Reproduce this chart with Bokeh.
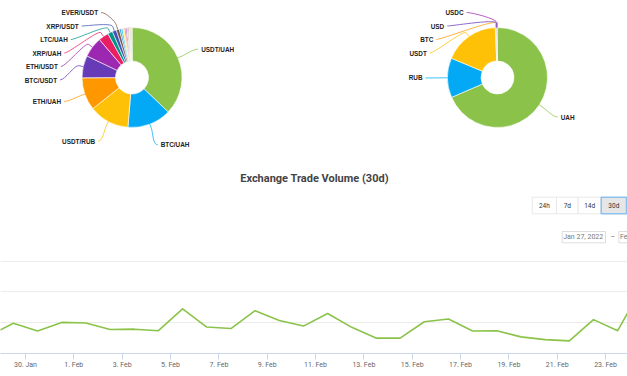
import math
from datetime import datetime, timedelta
import numpy as np
from bokeh.plotting import figure
from bokeh.layouts import column
from bokeh.models import Range1d, FixedTicker, SingleIntervalTicker
from bokeh.embed import file_html
from bokeh.resources import INLINE
from bokeh.core.properties import value

# ---------------- data ----------------
pair_names = ["USDT/UAH", "BTC/UAH", "USDT/RUB", "ETH/UAH", "BTC/USDT", "ETH/USDT",
              "XRP/UAH", "LTC/UAH", "XRP/USDT", "EVER/USDT",
              "", "", "", "", "", "", "", "", "", "", "", ""]
pair_share = [37.1, 14.2, 13.0, 10.6, 7.2, 6.6, 3.3, 1.6, 1.3, 1.0,
              0.6, 0.5, 0.5, 0.45, 0.4, 0.35, 0.3, 0.3, 0.25, 0.2, 0.15, 0.1]
pair_colors = ["#8bc34a", "#03a9f4", "#ffc107", "#ff9800", "#673ab7", "#9c27b0",
               "#e91e63", "#009688", "#3f51b5", "#795548",
               "#2196f3", "#00bcd4", "#ffeb3b", "#ff5722", "#9c27b0", "#9e9e9e",
               "#795548", "#cddc39", "#4caf50", "#f44336", "#607d8b", "#8d6e63"]

currency_names = ["UAH", "RUB", "USDT", "BTC", "USD", "USDC"]
currency_share = [68.5, 12.8, 18.0, 0.3, 0.2, 0.2]
currency_colors = ["#8bc34a", "#03a9f4", "#ffc107", "#ff9800", "#673ab7", "#9c27b0"]

volume_dates = ["2022-01-28", "2022-01-29", "2022-01-30", "2022-01-31", "2022-02-01",
                "2022-02-02", "2022-02-03", "2022-02-04", "2022-02-05", "2022-02-06",
                "2022-02-07", "2022-02-08", "2022-02-09", "2022-02-10", "2022-02-11",
                "2022-02-12", "2022-02-13", "2022-02-14", "2022-02-15", "2022-02-16",
                "2022-02-17", "2022-02-18", "2022-02-19", "2022-02-20", "2022-02-21",
                "2022-02-22", "2022-02-23", "2022-02-24"]
volume_values = [5.8, 9.8, 7.3, 10.1, 9.9, 7.8, 7.9, 7.4, 14.5, 8.6,
                 8.1, 13.9, 10.7, 8.9, 13.0, 8.5, 5.0, 5.0, 10.3, 11.2,
                 7.3, 7.4, 5.4, 4.5, 4.1, 11.0, 7.4, 21.4]

range_buttons = ["24h", "7d", "14d", "30d"]
selected_button = "30d"
date_from = "Jan 27, 2022"
date_to = "Feb 26, 2022"
title_text = "Exchange Trade Volume (30d)"

# ---------------- layout ----------------
W = 627
H_TOP = 250
H_BOT = 126


def Y(y):
    return H_TOP - y


top = figure(width=W, height=H_TOP, x_range=Range1d(0, W), y_range=Range1d(0, H_TOP),
             x_axis_location=None, y_axis_location=None, toolbar_location=None,
             output_backend="svg", min_border=0)
top.grid.visible = False
top.outline_line_color = None
top.background_fill_color = "white"


def draw_pie(p, names, vals, colors, cx, cy, r_out, r_in, dist=22.0, gap=13.5, top_y=12.0):
    vals = np.asarray(vals, dtype=float)
    cum = np.concatenate([[0.0], np.cumsum(vals)]) / vals.sum() * 2 * math.pi
    s_cw, e_cw = cum[:-1], cum[1:]
    p.annular_wedge(x=cx, y=Y(cy), inner_radius=r_in, outer_radius=r_out,
                    inner_radius_units="screen", outer_radius_units="screen",
                    start_angle=list(math.pi / 2 - e_cw), end_angle=list(math.pi / 2 - s_cw),
                    fill_color=colors, line_color="white", line_width=0.6)
    mid = (s_cw + e_cw) / 2
    R = r_out + dist
    labels = []
    for i, n in enumerate(names):
        if not n:
            continue
        side = 1 if mid[i] < math.pi else -1
        labels.append(dict(i=i, name=n, side=side, ny=cy - R * math.cos(mid[i])))
    for side in (1, -1):
        grp = sorted([l for l in labels if l["side"] == side], key=lambda l: l["ny"])
        prev = top_y - gap
        for l in grp:
            l["y"] = max(l["ny"], prev + gap)
            prev = l["y"]
    bx0, by0, bx1, by1, c0x, c0y, c1x, c1y, cols = [], [], [], [], [], [], [], [], []
    sx0, sy0, sx1, sy1 = [], [], [], []
    tl, tly, tlt, tr, trly, trt = [], [], [], [], [], []
    for l in labels:
        a = mid[l["i"]]
        side = l["side"]
        y = l["y"]
        x = cx + side * math.sqrt(max(R * R - (y - cy) ** 2, 0.0))
        tx, ty = cx + r_out * math.sin(a), cy - r_out * math.cos(a)
        bkx, bky = cx + (r_out + dist / 5) * math.sin(a), cy - (r_out + dist / 5) * math.cos(a)
        bx0.append(x); by0.append(Y(y)); bx1.append(bkx); by1.append(Y(bky))
        c0x.append(x - side * 5); c0y.append(Y(y))
        c1x.append(2 * bkx - tx); c1y.append(Y(2 * bky - ty))
        sx0.append(bkx); sy0.append(Y(bky)); sx1.append(tx); sy1.append(Y(ty))
        cols.append(colors[l["i"]])
        if side == 1:
            tl.append(x + 3); tly.append(Y(y)); tlt.append(l["name"])
        else:
            tr.append(x - 3); trly.append(Y(y)); trt.append(l["name"])
    p.bezier(x0=bx0, y0=by0, x1=bx1, y1=by1, cx0=c0x, cy0=c0y, cx1=c1x, cy1=c1y,
             line_color=cols, line_width=1, line_alpha=0.75)
    p.segment(x0=sx0, y0=sy0, x1=sx1, y1=sy1, line_color=cols, line_width=1, line_alpha=0.75)
    kw = dict(text_font=value("Liberation Sans"), text_font_size="6.4px",
              text_font_style="bold", text_color="#222222", text_baseline="middle")
    p.text(x=tl, y=tly, text=tlt, text_align="left", **kw)
    p.text(x=tr, y=trly, text=trt, text_align="right", **kw)


draw_pie(top, pair_names, pair_share, pair_colors, cx=131.5, cy=77, r_out=50, r_in=16.5)
draw_pie(top, currency_names, currency_share, currency_colors, cx=497, cy=77, r_out=50, r_in=16.5)

# title
top.text(x=[314], y=[Y(177.5)], text=[title_text], text_font=value("Roboto"),
         text_font_size="11px", text_font_style="bold", text_color="#444444",
         text_align="center", text_baseline="middle")

# range selector buttons
btn_edges = [531.7, 556.0, 577.7, 600.7, 626.0]
btn_top, btn_bot = 196.7, 213.3
for k, b in enumerate(range_buttons):
    sel = (b == selected_button)
    top.quad(left=btn_edges[k], right=btn_edges[k + 1], top=Y(btn_top), bottom=Y(btn_bot),
             fill_color="#e6e6e6" if sel else "white",
             line_color="#8cc0f0" if sel else "#e8e8e8", line_width=1.5 if sel else 1)
    top.text(x=[(btn_edges[k] + btn_edges[k + 1]) / 2], y=[Y((btn_top + btn_bot) / 2)], text=[b],
             text_font=value("Roboto"), text_font_size="6.5px", text_color="#333333",
             text_align="center", text_baseline="middle")

# date inputs
top.quad(left=561.7, right=605.0, top=Y(231.0), bottom=Y(242.3), fill_color="white",
         line_color="#dddddd", line_width=1)
top.quad(left=618.3, right=660.0, top=Y(231.0), bottom=Y(242.3), fill_color="white",
         line_color="#dddddd", line_width=1)
dkw = dict(text_font=value("Roboto"), text_font_size="7px", text_color="#777777",
           text_baseline="middle", text_align="left")
top.text(x=[562.7], y=[Y(236.8)], text=[date_from], **dkw)
top.text(x=[610.0], y=[Y(236.8)], text=["–"], **dkw)
top.text(x=[619.5], y=[Y(236.8)], text=[date_to], **dkw)

# ---------------- line chart ----------------
dts = [datetime.fromisoformat(d) + timedelta(hours=12) for d in volume_dates]
view_start = datetime(2022, 1, 28, 23, 11)
view_end = datetime(2022, 2, 23, 21, 46)

bot = figure(width=W, height=H_BOT, x_axis_type="datetime", x_range=Range1d(view_start, view_end),
             y_range=Range1d(0, 33.45), y_axis_location=None, toolbar_location=None,
             output_backend="svg", min_border_left=0, min_border_right=0, min_border_top=0,
             min_border_bottom=23)
bot.outline_line_color = None
bot.xgrid.visible = False
bot.ygrid.ticker = SingleIntervalTicker(interval=10)
bot.ygrid.grid_line_color = "#ececec"
bot.ygrid.grid_line_width = 1

bot.line(x=dts, y=volume_values, line_color="#8bc34a", line_width=1.6, line_join="round")

tick_days = [datetime(2022, 1, 28) + timedelta(days=k) for k in range(0, 30)]
epoch = datetime(1970, 1, 1)
tick_ms = []
overrides = {}
for d in tick_days:
    if (d - epoch).days % 2 == 0:
        ms = int((d - epoch).total_seconds() * 1000)
        tick_ms.append(ms)
        overrides[ms] = f"{d.day}. {d.strftime('%b')}"
ax = bot.xaxis[0]
ax.ticker = FixedTicker(ticks=tick_ms)
ax.major_label_overrides = overrides
ax.axis_line_color = "#ccd6eb"
ax.major_tick_line_color = "#ccd6eb"
ax.major_tick_out = 6
ax.major_tick_in = 0
ax.minor_tick_line_color = None
ax.major_label_standoff = 1
ax.major_label_text_font = "Roboto"
ax.major_label_text_font_size = "7px"
ax.major_label_text_color = "#666666"

layout = column(top, bot, spacing=0)
open("out.html", "w").write(file_html(layout, INLINE))
